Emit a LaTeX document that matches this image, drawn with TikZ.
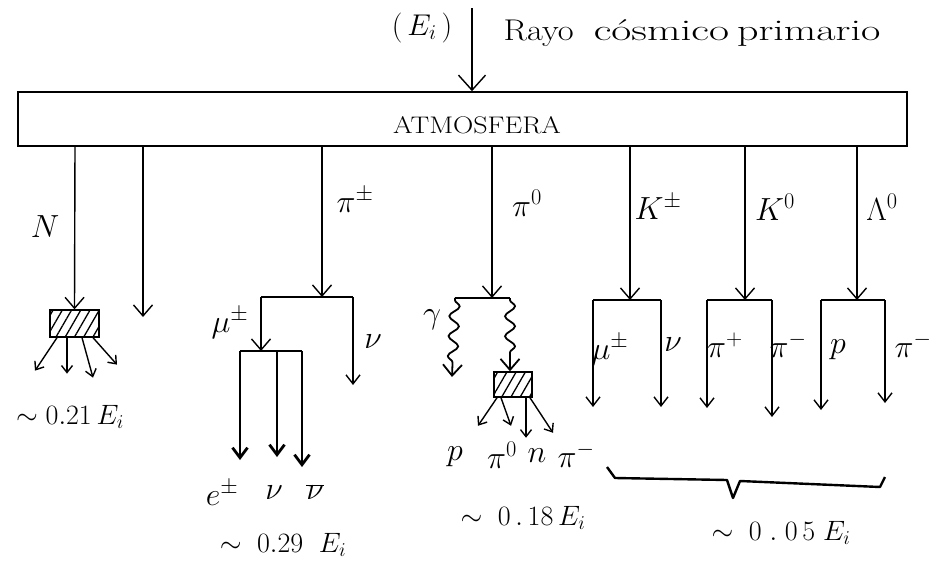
\documentclass[tikz,border=0pt]{standalone}
\usepackage{fix-cm}
\usepackage{fontspec}
\usepackage{graphicx}
\usepackage{tikz}
\usetikzlibrary{arrows.meta,patterns.meta,decorations.pathmorphing}

\begin{document}
\begin{tikzpicture}[
  x=1pt, y=-1pt, line width=1.4pt, >={Straight Barb[length=11pt,width=19pt]},
  ray/.style={->},
  endray/.style={->, >={Straight Barb[length=9pt,width=14pt]}},
  heavy/.style={->, line width=2.8pt, >={Straight Barb[length=10pt,width=15pt]}},
  smallray/.style={->, >={Straight Barb[length=7pt,width=11pt]}},
  wavy/.style={->, line width=1.8pt, decorate, decoration={snake, amplitude=5pt, segment length=20pt, pre length=2pt, post length=10pt}},
  hatch/.style={draw, line width=1.5pt, inner sep=0pt, pattern={Lines[angle=60,distance=8pt,line width=1.3pt]}},
  lbl/.style={font=\fontsize{32}{34}\selectfont, inner sep=0pt},
  sml/.style={font=\fontsize{30}{32}\selectfont, inner sep=0pt},
  nrg/.style={font=\fontsize{28}{30}\selectfont, inner sep=0pt}]
\useasboundingbox (0,0) rectangle (935,562);
% primary ray and atmosphere
\node[draw, line width=1.6pt, minimum width=889pt, minimum height=54pt, inner sep=0pt] (atm) at (462.5,119) {};
\node[font=\fontsize{24}{26}\selectfont, inner sep=0pt] (atmlbl) at (477,125) {\scalebox{1.17}[1]{ATMOSFERA}};
\coordinate (src) at (472,8);
\draw[->, >={Straight Barb[length=15pt,width=27pt]}] (src) -- (src |- atm.north);
\node[sml] (ei) at (422,28) {$(\,E_i\,)$};
\node[font=\fontsize{30}{32}\selectfont, anchor=base west, inner sep=0pt] (rayo) at (503,40)
  {\scalebox{1.15}[1]{Rayo}\hspace{20pt}\scalebox{1.45}[1]{cósmico}\hspace{8pt}\scalebox{1.4}[1]{primario}};
% nucleons
\coordinate (sN) at (75,146);
\node[hatch, minimum width=49pt, minimum height=27pt] (hN) at (74.5,323.5) {};
\draw[ray] (sN) -- (hN.north);
\node[lbl] (lN) at (45,227) {$N$};
\foreach \dx/\ex/\ey in {-17.5/-22/33, -7.5/0/36, 7.5/11/40, 18.5/24/27}
  \draw[smallray] ([xshift=\dx pt]hN.south) -- ++(\ex,\ey);
\node[nrg] (eN) at (70,417) {$\sim 0.21\,E_i$};
\coordinate (sF) at (143,146);
\coordinate (tF) at (143,317);
\draw[ray] (sF) -- (tF);
% charged pions
\coordinate (sP) at (322,146);
\coordinate (jP) at (322,297);
\coordinate (mu) at (261,297);
\coordinate (nuP) at (353,297);
\coordinate (jM) at (261,351);
\draw[ray] (sP) -- (jP);
\draw (mu) -- (nuP);
\draw[endray] (nuP) -- ++(0,88);
\draw[ray] (mu) -- (jM);
\coordinate (dE) at (240,351);
\coordinate (dV) at (277,351);
\coordinate (dW) at (302,351);
\draw (dE) -- (dW);
\foreach \c/\l in {dE/109, dV/106, dW/116}
  \draw[heavy] (\c) -- ++(0,\l);
\node[lbl] (lP) at (355,200) {$\pi^{\pm}$};
\node[lbl] (lM) at (230,323) {$\mu^{\pm}$};
\node[lbl] (lV) at (373,342) {$\nu$};
\node[lbl] (le) at (222,493) {$e^{\pm}$};
\node[lbl] (lv1) at (274,493) {$\nu$};
\node[lbl] (lv2) at (315,492) {$\overline{\nu}$};
\node[nrg] (eP) at (283,545) {$\sim\;0.29\;\;E_i$};
% neutral pions
\coordinate (sZ) at (492,146);
\coordinate (jZ) at (492,298);
\coordinate (gA) at (455,298);
\coordinate (gB) at (510,298);
\draw[ray] (sZ) -- (jZ);
\draw (gA) -- (gB);
\node[hatch, minimum width=38pt, minimum height=25pt] (hZ) at (513,384.5) {};
\draw[wavy] (gA) -- ++(-3,79);
\draw[wavy] (gB) -- (hZ.north -| gB);
\foreach \dx/\ex/\ey in {-16/-19/28, -12/10/28, 13/0/40, 17/23/35}
  \draw[smallray] ([xshift=\dx pt]hZ.south) -- ++(\ex,\ey);
\node[lbl] (lZ) at (527,203) {$\pi^{0}$};
\node[lbl] (lg) at (432,320) {$\gamma$};
\node[lbl] (lp) at (455,457) {$p$};
\node[lbl] (lz) at (502,455) {$\pi^{0}$};
\node[lbl] (ln) at (537,456) {$n$};
\node[lbl] (lm) at (576,455) {$\pi^{-}$};
\node[nrg] (eZ) at (523,518) {$\sim\;0\,.\,18\,E_i$};
% kaons and lambda
\foreach \n/\x/\l/\r/\dl/\dr in {K/630/593/661/107/107, L/745/707/772/108/117, M/857/821/885/110/103}{
  \coordinate (s\n) at (\x,146);
  \coordinate (j\n) at (\x,300);
  \coordinate (a\n) at (\l,300);
  \coordinate (b\n) at (\r,300);
  \draw[ray] (s\n) -- (j\n);
  \draw (a\n) -- (b\n);
  \draw[endray] (a\n) -- ++(0,\dl);
  \draw[endray] (b\n) -- ++(0,\dr);
}
\node[lbl] (lK) at (658,207) {$K^{\pm}$};
\node[lbl] (lL) at (775,207) {$K^{0}$};
\node[lbl] (lA) at (882,207) {$\Lambda^{0}$};
\node[lbl] (lK1) at (610,350) {$\mu^{\pm}$};
\node[lbl] (lK2) at (673,345) {$\nu$};
\node[lbl] (lL1) at (725,345) {$\pi^{+}$};
\node[lbl] (lL2) at (788,345) {$\pi^{-}$};
\node[lbl] (lA1) at (838,350) {$p$};
\node[lbl] (lA2) at (913,345) {$\pi^{-}$};
% brace
\draw[line width=2.4pt, line join=round] (607,467) -- (615,478) -- (727,480) -- (733,498) -- (740,481) -- (880,487) -- (885,477);
\node[nrg] (eK) at (781,533) {$\sim\;0\;.\;0\,5\;E_i$};
\end{tikzpicture}
\end{document}
